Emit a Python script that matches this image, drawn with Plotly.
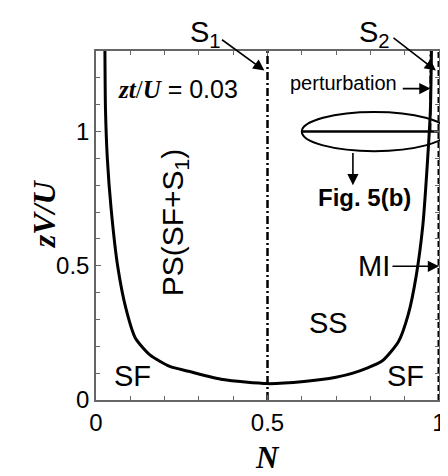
import plotly.graph_objects as go

# phase boundary curve (N, zV/U)
curve_N = [0.026, 0.0276, 0.033, 0.044, 0.063, 0.087, 0.115, 0.158, 0.215, 0.27, 0.37, 0.5,
           0.606, 0.70, 0.749, 0.834, 0.882, 0.91, 0.934, 0.953, 0.967, 0.975, 0.978]
curve_V = [1.3, 1.085, 0.9, 0.714, 0.50, 0.342, 0.23, 0.167, 0.125, 0.107, 0.076, 0.061,
           0.069, 0.085, 0.10, 0.145, 0.218, 0.317, 0.466, 0.652, 0.9, 1.085, 1.3]

s1_N = [0.5, 0.5]
s1_V = [0.0, 1.3]
s2_N = [0.975, 0.975]
s2_V = [1.0, 1.3]
mi_N = [1.0, 1.0]
mi_V = [0.0, 1.3]
cut_N = [0.6, 1.0]
cut_V = [1.0, 1.0]

x_ticks = [0, 0.5, 1]
x_labels = ["0", "0.5", "1"]
y_ticks = [0, 0.5, 1]
y_labels = ["0", "0.5", "1"]

Y_MAX = 1.3

fig = go.Figure()
fig.add_trace(go.Scatter(x=curve_N, y=curve_V, mode="lines", line=dict(color="black", width=3, shape="spline", smoothing=0.6), showlegend=False))
fig.add_trace(go.Scatter(x=s1_N, y=s1_V, mode="lines", line=dict(color="black", width=2.5, dash="8px,3px,2px,3px"), showlegend=False))
fig.add_trace(go.Scatter(x=s2_N, y=s2_V, mode="lines", line=dict(color="black", width=2, dash="8px,3px,2px,3px"), showlegend=False))
fig.add_trace(go.Scatter(x=mi_N, y=mi_V, mode="lines", line=dict(color="black", width=3, dash="6px,3px"), showlegend=False))
fig.add_trace(go.Scatter(x=cut_N, y=cut_V, mode="lines", line=dict(color="black", width=2.5), showlegend=False))

F = "Arial, Liberation Sans, sans-serif"
SERIF = "Times New Roman, Liberation Serif, serif"

def txt(x, y, t, size=29, xanchor="center", angle=0, family=F):
    fig.add_annotation(x=x, y=y, text=t, showarrow=False, xanchor=xanchor, yanchor="middle",
                       textangle=angle, font=dict(family=family, size=size, color="black"))

def ptxt(x, y, t, size=29, angle=0, family=F, yanchor="middle"):
    fig.add_annotation(x=x, y=y, xref="paper", yref="paper", text=t, showarrow=False,
                       xanchor="center", yanchor=yanchor, textangle=angle,
                       font=dict(family=family, size=size, color="black"))

def arrow(x0, y0, x1, y1):
    fig.add_annotation(x=x1, y=y1, ax=x0, ay=y0, xref="x", yref="y", axref="x", ayref="y",
                       text="", showarrow=True, arrowhead=2, arrowsize=1.4, arrowwidth=1.6, arrowcolor="black")

txt(0.057, 1.16, "<span style='font-family:Liberation Serif'><b><i>zt</i></b>/<b><i>U</i></b></span> = 0.03", size=25, xanchor="left")
txt(0.229, 0.66, "PS(SF+S<sub>1</sub>)", size=30, angle=-90)
txt(0.677, 0.286, "SS")
txt(0.106, 0.089, "SF")
txt(0.903, 0.089, "SF")
txt(0.811, 0.498, "MI")
txt(0.783, 0.755, "<b>Fig. 5(b)</b>", size=24)
txt(0.883, 1.18, "perturbation", size=20, xanchor="right")

# S1, S2 labels above plot (paper coordinates; data x range is [0, 1])
ptxt(0.32, 1.365 / Y_MAX, "S<sub>1</sub>", size=29)
ptxt(0.811, 1.365 / Y_MAX, "S<sub>2</sub>", size=29)
arrow(0.363, 1.346, 0.491, 1.227)
arrow(0.863, 1.353, 0.991, 1.227)
arrow(0.89, 1.16, 0.975, 1.16)
arrow(0.86, 0.498, 1.0, 0.498)
arrow(0.749, 0.926, 0.749, 0.8)

# axis titles
ptxt(0.5, -0.222, "<b><i>N</i></b>", size=31, family=SERIF, yanchor="bottom")
ptxt(-0.151, 0.533, "<b><i>zV/U</i></b>", size=32, angle=-90, family=SERIF)

fig.add_shape(type="circle", xref="paper", yref="paper", x0=0.6, x1=1.023, y0=0.927 / Y_MAX, y1=1.073 / Y_MAX,
              line=dict(color="black", width=2))

axis_common = dict(showline=True, linecolor="#666", linewidth=1.5, mirror="ticks", ticks="inside",
                   ticklen=5, tickcolor="#666", showgrid=False, zeroline=False,
                   tickfont=dict(family=F, size=24, color="black"),
                   minor=dict(dtick=0.1, ticks="inside", ticklen=4, tickcolor="#666"))
fig.update_xaxes(range=[0, 1], tickvals=x_ticks, ticktext=x_labels, **axis_common)
fig.update_yaxes(range=[0, Y_MAX], tickvals=y_ticks, ticktext=y_labels, **axis_common)
fig.update_layout(width=448, height=476, margin=dict(l=88, r=10, t=43, b=84),
                  plot_bgcolor="white", paper_bgcolor="white")
fig.write_html("out.html")
